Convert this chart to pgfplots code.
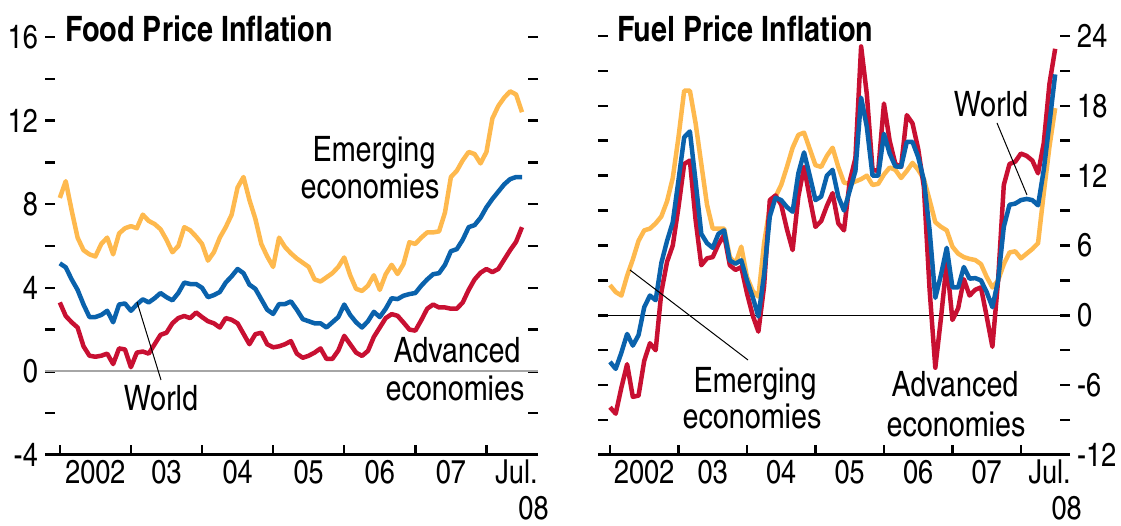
\documentclass[border=0pt]{standalone}
\usepackage{fontspec}
\setmainfont{texgyreheroscn}[Extension=.otf, UprightFont=*-regular, BoldFont=*-bold]
\usepackage{pgfplots}
\usepackage{pgfplotstable}
\pgfplotsset{compat=1.18}
\definecolor{cor}{RGB}{254,185,78}
\definecolor{cbl}{RGB}{10,98,172}
\definecolor{crd}{RGB}{200,16,50}
\newcommand\lab{\fontsize{35}{37}\selectfont}
\newcommand\tik{\fontsize{33}{36}\selectfont}

\pgfplotstableread{
m emg wld adv
0 8.3 5.17 3.3
1 9.1 4.98 2.65
2 7.7 4.4 2.35
3 6.4 3.9 2.1
4 5.8 3.2 1.2
5 5.6 2.6 0.75
6 5.5 2.6 0.7
7 6.1 2.7 0.75
8 6.4 2.9 0.85
9 5.6 2.35 0.35
10 6.6 3.2 1.1
11 6.85 3.25 1.05
12 6.95 2.9 0.2
13 6.85 3.2 0.9
14 7.5 3.45 0.95
15 7.2 3.3 0.85
16 7.05 3.5 1.3
17 6.8 3.75 1.75
18 6.3 3.55 1.85
19 5.7 3.4 2.3
20 6.0 3.75 2.55
21 6.9 4.25 2.65
22 6.75 4.18 2.55
23 6.45 4.18 2.82
24 6.1 4.0 2.6
25 5.3 3.55 2.4
26 5.7 3.65 2.3
27 6.4 3.8 2.1
28 6.9 4.25 2.55
29 7.5 4.55 2.47
30 8.8 4.9 2.3
31 9.3 4.7 1.8
32 8.2 4.15 1.3
33 7.3 3.95 1.78
34 6.1 3.45 1.85
35 5.5 2.95 1.3
36 5.0 2.75 1.15
37 6.4 3.22 1.2
38 5.95 3.22 1.3
39 5.65 3.35 1.45
40 5.4 2.95 0.85
41 5.2 2.5 0.65
42 5.0 2.4 0.75
43 4.4 2.3 0.9
44 4.3 2.3 1.1
45 4.5 2.1 0.6
46 4.7 2.35 0.6
47 5.0 2.6 1.0
48 5.45 3.2 1.7
49 4.6 2.7 1.3
50 3.95 2.35 0.9
51 3.85 2.1 0.74
52 4.1 2.4 0.98
53 4.6 2.85 1.65
54 3.9 2.6 2.1
55 4.65 3.0 2.55
56 5.1 3.5 2.74
57 4.66 3.46 2.66
58 5.14 3.62 2.34
59 6.18 3.7 2.0
60 6.1 3.75 1.95
61 6.4 4.1 2.45
62 6.65 4.4 3.0
63 6.65 4.65 3.2
64 6.7 4.7 3.06
65 7.6 5.1 3.06
66 9.3 5.75 3.0
67 9.6 5.85 3.0
68 10.1 6.3 3.3
69 10.5 6.9 3.9
70 10.4 7.0 4.4
71 9.95 7.35 4.72
72 10.5 7.85 4.9
73 12.1 8.25 4.75
74 12.7 8.6 4.9
75 13.1 8.95 5.35
76 13.4 9.2 5.8
77 13.25 9.3 6.2
78 12.4 9.3 6.9
}\fooddata

\pgfplotstableread{
m emg wld adv
0 2.6 -4.0 -7.9
1 2.0 -4.6 -8.45
2 1.7 -3.2 -6.2
3 3.4 -1.6 -4.2
4 4.8 -2.6 -7.0
5 6.4 -1.7 -6.9
6 7.3 0.7 -3.9
7 7.45 1.7 -2.4
8 7.9 1.3 -3.0
9 8.5 4.5 2.0
10 9.8 6.4 4.6
11 11.8 8.0 6.0
12 15.3 11.6 9.3
13 19.3 15.3 13.0
14 19.3 15.8 13.3
15 16.5 11.5 8.2
16 13.0 7.0 4.3
17 9.5 6.2 4.9
18 7.45 5.8 5.0
19 7.45 7.0 6.1
20 7.45 7.3 6.9
21 5.0 4.7 4.3
22 4.44 4.44 3.9
23 5.9 4.73 4.15
24 3.3 3.0 1.9
25 2.1 1.58 0.0
26 1.6 -0.1 -1.4
27 6.2 3.5 2.5
28 9.3 8.5 9.9
29 10.2 10.1 10.3
30 11.2 9.9 9.5
31 12.75 9.3 7.4
32 14.4 8.9 5.6
33 15.5 12.2 10.2
34 15.7 14.0 12.75
35 14.3 12.0 10.1
36 12.9 9.9 7.6
37 12.75 10.2 8.1
38 13.7 12.0 9.4
39 14.4 12.5 10.5
40 12.75 10.2 7.9
41 11.4 9.0 7.3
42 11.3 10.7 11.5
43 11.5 12.4 13.5
44 11.7 18.7 23.1
45 12.0 16.2 19.0
46 11.2 12.0 12.5
47 11.3 12.0 12.4
48 12.1 15.6 18.2
49 12.7 13.9 15.0
50 12.5 12.8 13.0
51 11.8 12.75 12.75
52 12.4 14.9 17.2
53 13.1 14.9 16.5
54 12.5 13.6 14.3
55 11.7 11.6 11.0
56 9.9 7.3 2.2
57 8.0 1.5 -4.5
58 7.6 3.5 -0.2
59 7.3 5.8 4.6
60 5.9 2.4 -0.4
61 5.3 2.4 0.6
62 5.0 4.15 3.1
63 4.85 3.15 1.7
64 4.75 3.2 2.2
65 4.4 3.0 2.4
66 3.3 2.0 -0.1
67 2.4 0.7 -2.7
68 3.0 3.0 3.0
69 4.4 7.6 11.2
70 5.4 9.5 13.0
71 5.5 9.6 13.2
72 4.9 9.9 13.9
73 5.3 10.0 13.7
74 5.7 9.9 13.3
75 6.2 9.45 12.2
76 10.5 12.5 14.8
77 14.5 16.5 19.9
78 17.8 20.7 22.9
}\fueldata

\pgfplotsset{
  common/.style={
    scale only axis,
    anchor=south west,
    clip=false,
    axis line style={draw=none},
    tick align=inside,
    major tick length=10pt,
    major tick style={black, line width=2.5pt},
    xtick pos=left,
    ytick pos=both,
    xtick={0,12,...,72},
    xticklabels={},
    extra x ticks={6,18,30,42,54,66,78},
    extra x tick labels={2002,03,04,05,06,07,{Jul.\kern11pt\\08}},
    extra x tick style={major tick length=0pt},
    xticklabel style={font=\tik, inner sep=0pt, yshift=-5pt, align=right},
    yticklabel style={font=\tik, inner sep=0pt},
  },
  ser/.style={line width=4.5pt, line join=round},
}

\begin{document}
\begin{tikzpicture}[x=1pt,y=1pt]
\useasboundingbox (0pt,0pt) rectangle (1121pt,526pt);

\begin{axis}[common,
  at={(45pt,71pt)}, width=493pt, height=418pt,
  xmin=-2.5, xmax=80.7, ymin=-4, ymax=16,
  ytick={-4,-2,...,16},
  yticklabels={-4,,0,,4,,8,,12,,16},
  yticklabel pos=left,
  yticklabel style={xshift=-7pt},
]
\draw[black!35, line width=2pt] (axis cs:-2.5,0) -- (axis cs:80.7,0);
\addplot[ser, cor] table[x=m, y=emg] {\fooddata};
\addplot[ser, crd] table[x=m, y=adv] {\fooddata};
\addplot[ser, cbl] table[x=m, y=wld] {\fooddata};
\draw[black, line width=3pt] (axis cs:-2.5,-4) -- (axis cs:80.7,-4);
\end{axis}

\begin{axis}[common,
  at={(598pt,71pt)}, width=472pt, height=419pt,
  xmin=-2.1, xmax=80.6, ymin=-12, ymax=24,
  ytick={-12,-9,...,24},
  yticklabels={-12,,-6,,0,,6,,12,,18,,24},
  yticklabel pos=right,
  yticklabel style={xshift=7pt},
]
\draw[black, line width=1.5pt] (axis cs:-2.1,0) -- (axis cs:80.6,0);
\addplot[ser, cor] table[x=m, y=emg] {\fueldata};
\addplot[ser, crd] table[x=m, y=adv] {\fueldata};
\addplot[ser, cbl] table[x=m, y=wld] {\fueldata};
\draw[black, line width=3pt] (axis cs:-2.1,-12) -- (axis cs:80.6,-12);
\end{axis}

% titles
\node[anchor=base west, inner sep=0pt, font=\bfseries\fontsize{35}{40}\selectfont] at (65pt,484pt) {Food Price Inflation};
\node[anchor=base west, inner sep=0pt, font=\bfseries\fontsize{35}{40}\selectfont] at (617pt,484pt) {Fuel Price Inflation};

% left annotations
\node[anchor=base, inner sep=0pt, font=\lab] at (374pt,364pt) {Emerging};
\node[anchor=base, inner sep=0pt, font=\lab] at (370pt,327pt) {economies};
\node[anchor=base, inner sep=0pt, font=\lab] at (457pt,163pt) {Advanced};
\node[anchor=base, inner sep=0pt, font=\lab] at (455pt,125pt) {economies};
\node[anchor=base, inner sep=0pt, font=\lab] at (161pt,115pt) {World};
\draw[black, line width=1pt] (137pt,224pt) -- (161pt,146pt);

% right annotations
\node[anchor=base, inner sep=0pt, font=\lab] at (991pt,409pt) {World};
\draw[black, line width=1pt] (997pt,403pt) -- (1027pt,331pt);
\node[anchor=base, inner sep=0pt, font=\lab] at (755pt,133pt) {Emerging};
\node[anchor=base, inner sep=0pt, font=\lab] at (752pt,97pt) {economies};
\draw[black, line width=1pt] (630pt,256pt) -- (748pt,166pt);
\node[anchor=base, inner sep=0pt, font=\lab] at (955pt,129pt) {Advanced};
\node[anchor=base, inner sep=0pt, font=\lab] at (956pt,89pt) {economies};
\end{tikzpicture}
\end{document}
